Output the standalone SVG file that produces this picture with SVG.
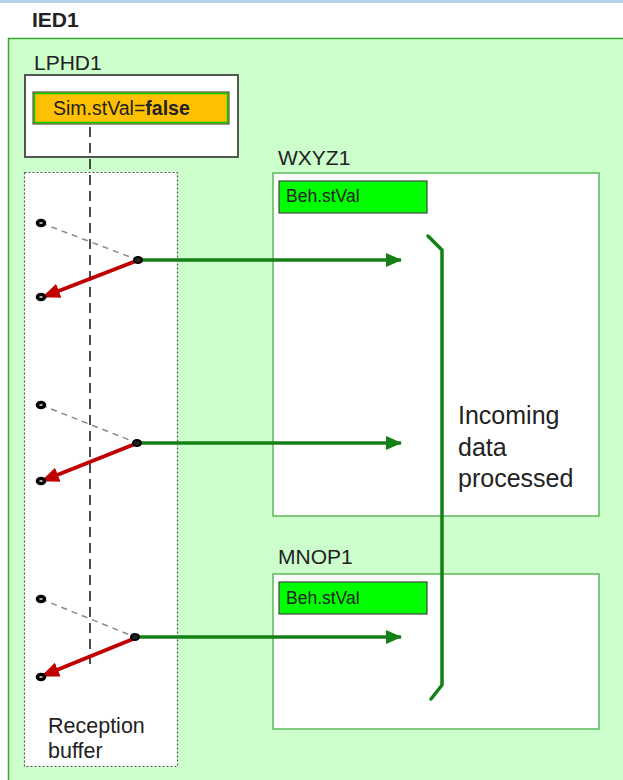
<svg xmlns="http://www.w3.org/2000/svg" width="623" height="780" viewBox="0 0 623 780">
<defs>
<style>
.lbl{font-family:"Liberation Sans",Arial,sans-serif;fill:#222}
.ln{fill:#fff;stroke:#5cb85c;stroke-width:1.5}
.beh{fill:#00ff00;stroke:#444;stroke-width:1.2}
.flow{stroke:#158015;stroke-width:3.5;fill:none}
.back{stroke:#c00000;stroke-width:4;fill:none}
.was{stroke:#888;stroke-width:1.5;stroke-dasharray:6 5;fill:none}
.ring{fill:#fff;stroke:#000;stroke-width:3.4}
.hub{fill:#222;stroke:#000;stroke-width:2}
</style>
<marker id="ga" markerWidth="16" markerHeight="14" refX="15" refY="7" orient="auto" markerUnits="userSpaceOnUse" viewBox="0 0 16 14"><path d="M0,0 L16,7 L0,14 z" fill="#158015"/></marker>
<marker id="ra" markerWidth="18" markerHeight="15" refX="17" refY="7.5" orient="auto" markerUnits="userSpaceOnUse" viewBox="0 0 18 15"><path d="M0,0 L18,7.5 L0,15 z" fill="#c00000"/></marker>
</defs>
<rect x="0" y="0" width="623" height="780" fill="#fff"/>
<rect x="0" y="0" width="623" height="3" fill="#b8d4ec"/>
<g id="IED1">
<text class="lbl" x="32" y="27" font-size="21" font-weight="bold" fill="#111">IED1</text>
<rect x="8.5" y="38.5" width="640" height="760" fill="#ccffcc" stroke="#33aa33" stroke-width="1.5"/>
</g>
<g id="LPHD1">
<text class="lbl" x="34" y="70" font-size="21" fill="#333">LPHD1</text>
<rect x="25" y="75" width="213" height="82" fill="#fff" stroke="#444" stroke-width="1.8"/>
<rect x="33" y="92" width="196" height="32" fill="#ffc000" stroke="#333" stroke-width="1"/>
<rect x="34.5" y="93.5" width="193" height="29" fill="none" stroke="#00cc00" stroke-width="1.5"/>
<text class="lbl" x="53" y="115" font-size="19.5" fill="#111">Sim.stVal=<tspan font-weight="bold">false</tspan></text>
</g>
<g id="ReceptionBuffer">
<rect x="24.5" y="172.5" width="153" height="594" fill="#fff" stroke="#555" stroke-width="1.2" stroke-dasharray="2 2"/>
<text class="lbl" x="48" y="733" font-size="21.5">Reception</text>
<text class="lbl" x="48" y="758" font-size="21.5">buffer</text>
</g>
<g id="WXYZ1">
<text class="lbl" x="278" y="165" font-size="21" fill="#333">WXYZ1</text>
<rect class="ln" x="273" y="173" width="326" height="343"/>
<rect class="beh" x="279" y="181" width="148" height="32"/>
<text class="lbl" x="286" y="202" font-size="17.5">Beh.stVal</text>
</g>
<g id="MNOP1">
<text class="lbl" x="278" y="564" font-size="21" fill="#333">MNOP1</text>
<rect class="ln" x="273" y="574" width="326" height="155"/>
<rect class="beh" x="279" y="582" width="148" height="32"/>
<text class="lbl" x="286" y="604" font-size="17.5">Beh.stVal</text>
</g>
<g id="IncomingData">
<text class="lbl" x="458" y="424" font-size="25">Incoming</text>
<text class="lbl" x="458" y="456" font-size="25">data</text>
<text class="lbl" x="458" y="487" font-size="25">processed</text>
</g>
<g id="connectors">
<line x1="90" y1="127" x2="90" y2="664" stroke="#111" stroke-width="1.5" stroke-dasharray="10 6"/>
<path class="flow" d="M428,236 L442,250 L442,685 L431,699" stroke-linecap="round"/>
<line class="was" x1="41" y1="223" x2="138" y2="260"/>
<line class="flow" x1="140" y1="260" x2="401" y2="260" marker-end="url(#ga)"/>
<line class="back" x1="136" y1="261" x2="43" y2="297" marker-end="url(#ra)"/>
<line class="was" x1="41" y1="405" x2="137" y2="443"/>
<line class="flow" x1="139" y1="443" x2="401" y2="443" marker-end="url(#ga)"/>
<line class="back" x1="135" y1="444" x2="42" y2="481" marker-end="url(#ra)"/>
<line class="was" x1="41" y1="599" x2="135" y2="637"/>
<line class="flow" x1="137" y1="637" x2="401" y2="637" marker-end="url(#ga)"/>
<line class="back" x1="133" y1="639" x2="42" y2="676" marker-end="url(#ra)"/>
<ellipse class="ring" cx="41" cy="223" rx="3.6" ry="2.5"/>
<ellipse class="ring" cx="41" cy="297" rx="3.6" ry="2.5"/>
<ellipse class="hub" cx="138" cy="260" rx="4" ry="3"/>
<ellipse class="ring" cx="41" cy="405" rx="3.6" ry="2.5"/>
<ellipse class="ring" cx="41" cy="481" rx="3.6" ry="2.5"/>
<ellipse class="hub" cx="137" cy="443" rx="4" ry="3"/>
<ellipse class="ring" cx="41" cy="599" rx="3.6" ry="2.5"/>
<ellipse class="ring" cx="41" cy="677" rx="3.6" ry="2.5"/>
<ellipse class="hub" cx="135" cy="637" rx="4" ry="3"/>
</g>
</svg>
